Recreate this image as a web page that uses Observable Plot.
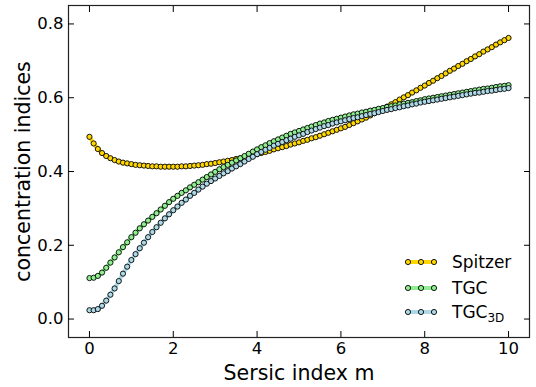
<!DOCTYPE html>
<html><head><meta charset="utf-8">
<script src="https://cdn.jsdelivr.net/npm/d3@7"></script>
<script src="https://cdn.jsdelivr.net/npm/@observablehq/plot@0.6"></script>
<style>body{margin:0;background:#fff;}</style>
</head><body><div id="chart"></div>
<script>
const sersicM = d3.range(101).map(i => i / 10);
const spitzer = [
0.494,0.476,0.461,0.450,0.442,0.436,0.431,0.427,0.424,0.422,
0.420,0.418,0.417,0.416,0.415,0.414,0.414,0.413,0.413,0.413,
0.413,0.413,0.414,0.414,0.415,0.416,0.417,0.418,0.420,0.421,
0.423,0.425,0.427,0.429,0.431,0.434,0.436,0.438,0.441,0.444,
0.447,0.450,0.453,0.456,0.460,0.463,0.466,0.469,0.473,0.476,
0.479,0.483,0.486,0.490,0.493,0.497,0.501,0.505,0.509,0.513,
0.517,0.521,0.526,0.531,0.536,0.541,0.546,0.552,0.558,0.564,
0.570,0.576,0.582,0.588,0.595,0.601,0.607,0.614,0.620,0.627,
0.633,0.640,0.646,0.653,0.659,0.666,0.673,0.679,0.686,0.692,
0.699,0.705,0.712,0.718,0.725,0.731,0.737,0.744,0.750,0.756,
0.762];
const tgc = [
0.111,0.112,0.117,0.126,0.139,0.153,0.167,0.181,0.195,0.208,
0.222,0.234,0.246,0.257,0.267,0.277,0.287,0.297,0.307,0.317,
0.326,0.334,0.342,0.349,0.357,0.364,0.371,0.378,0.385,0.392,
0.399,0.406,0.412,0.418,0.424,0.430,0.436,0.442,0.448,0.454,
0.460,0.466,0.471,0.477,0.482,0.487,0.492,0.497,0.502,0.506,
0.510,0.514,0.518,0.522,0.526,0.530,0.533,0.537,0.540,0.543,
0.546,0.549,0.552,0.555,0.557,0.560,0.562,0.565,0.567,0.570,
0.572,0.575,0.577,0.579,0.582,0.584,0.586,0.588,0.591,0.593,
0.596,0.598,0.600,0.602,0.604,0.606,0.608,0.610,0.612,0.614,
0.616,0.618,0.620,0.622,0.624,0.625,0.627,0.629,0.631,0.632,
0.634];
const tgc3d = [
0.024,0.024,0.027,0.036,0.050,0.066,0.083,0.103,0.123,0.142,
0.160,0.176,0.192,0.207,0.222,0.236,0.249,0.261,0.273,0.284,
0.295,0.305,0.315,0.324,0.334,0.342,0.351,0.359,0.367,0.374,
0.381,0.388,0.395,0.401,0.408,0.414,0.420,0.427,0.434,0.440,
0.447,0.453,0.459,0.464,0.470,0.475,0.480,0.485,0.489,0.494,
0.498,0.502,0.507,0.511,0.515,0.519,0.523,0.526,0.530,0.533,
0.536,0.539,0.542,0.545,0.547,0.550,0.553,0.556,0.558,0.561,
0.564,0.567,0.569,0.572,0.574,0.577,0.579,0.582,0.584,0.587,
0.589,0.591,0.593,0.595,0.597,0.599,0.601,0.603,0.605,0.607,
0.609,0.611,0.613,0.614,0.616,0.618,0.619,0.621,0.623,0.624,
0.626];
const seriesNames = ["Spitzer", "TGC", "TGC"];
const seriesSubs = ["", "", "3D"];
const seriesColors = ["#FFD700", "#90EE90", "#ADD8E6"];
const xTicks = [0, 2, 4, 6, 8, 10];
const yTicks = [0.0, 0.2, 0.4, 0.6, 0.8];
const xLabel = "Sersic index m";
const yLabel = "concentration indices";

const seriesValues = [spitzer, tgc, tgc3d];
const tables = seriesValues.map(vals => sersicM.map((m, i) => ({m, v: vals[i]})));

const FONT = "DejaVu Sans";
const marks = [];
tables.forEach((t, i) => {
  marks.push(Plot.line(t, {x: "m", y: "v", stroke: seriesColors[i], strokeWidth: 4}));
  marks.push(Plot.dot(t, {x: "m", y: "v", r: 2.6, fill: seriesColors[i], stroke: "black", strokeWidth: 0.9}));
});
marks.push(
  Plot.frame({stroke: "#222", strokeWidth: 1.2}),
  Plot.axisX({ticks: xTicks, tickSize: 0, tickPadding: 5, tickFormat: d3.format("d"), label: null, fontSize: 16.5}),
  Plot.axisX({ticks: xTicks, tickSize: 6, dy: -6, text: null, label: null}),
  Plot.axisX({anchor: "top", ticks: xTicks, tickSize: 6, dy: 6, text: null, label: null}),
  Plot.axisY({ticks: yTicks, tickSize: 0, tickPadding: 5, tickFormat: d3.format(".1f"), label: null, fontSize: 16.5}),
  Plot.axisY({ticks: yTicks, tickSize: 6, dx: 6, text: null, label: null}),
  Plot.axisY({anchor: "right", ticks: yTicks, tickSize: 6, dx: -6, text: null, label: null}),
  Plot.text([xLabel], {frameAnchor: "bottom", dy: 42, lineAnchor: "bottom", textAnchor: "middle", fontSize: 20.5, text: d => d}),
  Plot.text([yLabel], {frameAnchor: "left", dx: -39, rotate: -90, lineAnchor: "bottom", textAnchor: "middle", fontSize: 20.5, text: d => d})
);

const chart = Plot.plot({
  width: 536, height: 387,
  marginLeft: 68, marginRight: 7, marginTop: 5, marginBottom: 50,
  style: {fontFamily: FONT, fontSize: "16.5px", background: "white", color: "black"},
  x: {domain: [-0.5, 10.5]},
  y: {domain: [-0.05, 0.85]},
  marks
});

const legendRows = [262, 288, 312];
const g = d3.select(chart).append("g").attr("font-family", FONT).attr("font-size", 17).attr("text-anchor", "start");
seriesNames.forEach((name, i) => {
  const y = legendRows[i];
  g.append("line").attr("x1", 408).attr("x2", 434).attr("y1", y).attr("y2", y)
    .attr("stroke", seriesColors[i]).attr("stroke-width", 4);
  [408, 421, 434].forEach(x => g.append("circle").attr("cx", x).attr("cy", y).attr("r", 2.6)
    .attr("fill", seriesColors[i]).attr("stroke", "black").attr("stroke-width", 0.9));
  const t = g.append("text").attr("x", 452).attr("y", y + 6).attr("fill", "black").text(name);
  if (seriesSubs[i]) t.append("tspan").attr("font-size", 12).attr("dy", 4).text(seriesSubs[i]);
});

document.getElementById("chart").appendChild(chart);
</script>
</body></html>
